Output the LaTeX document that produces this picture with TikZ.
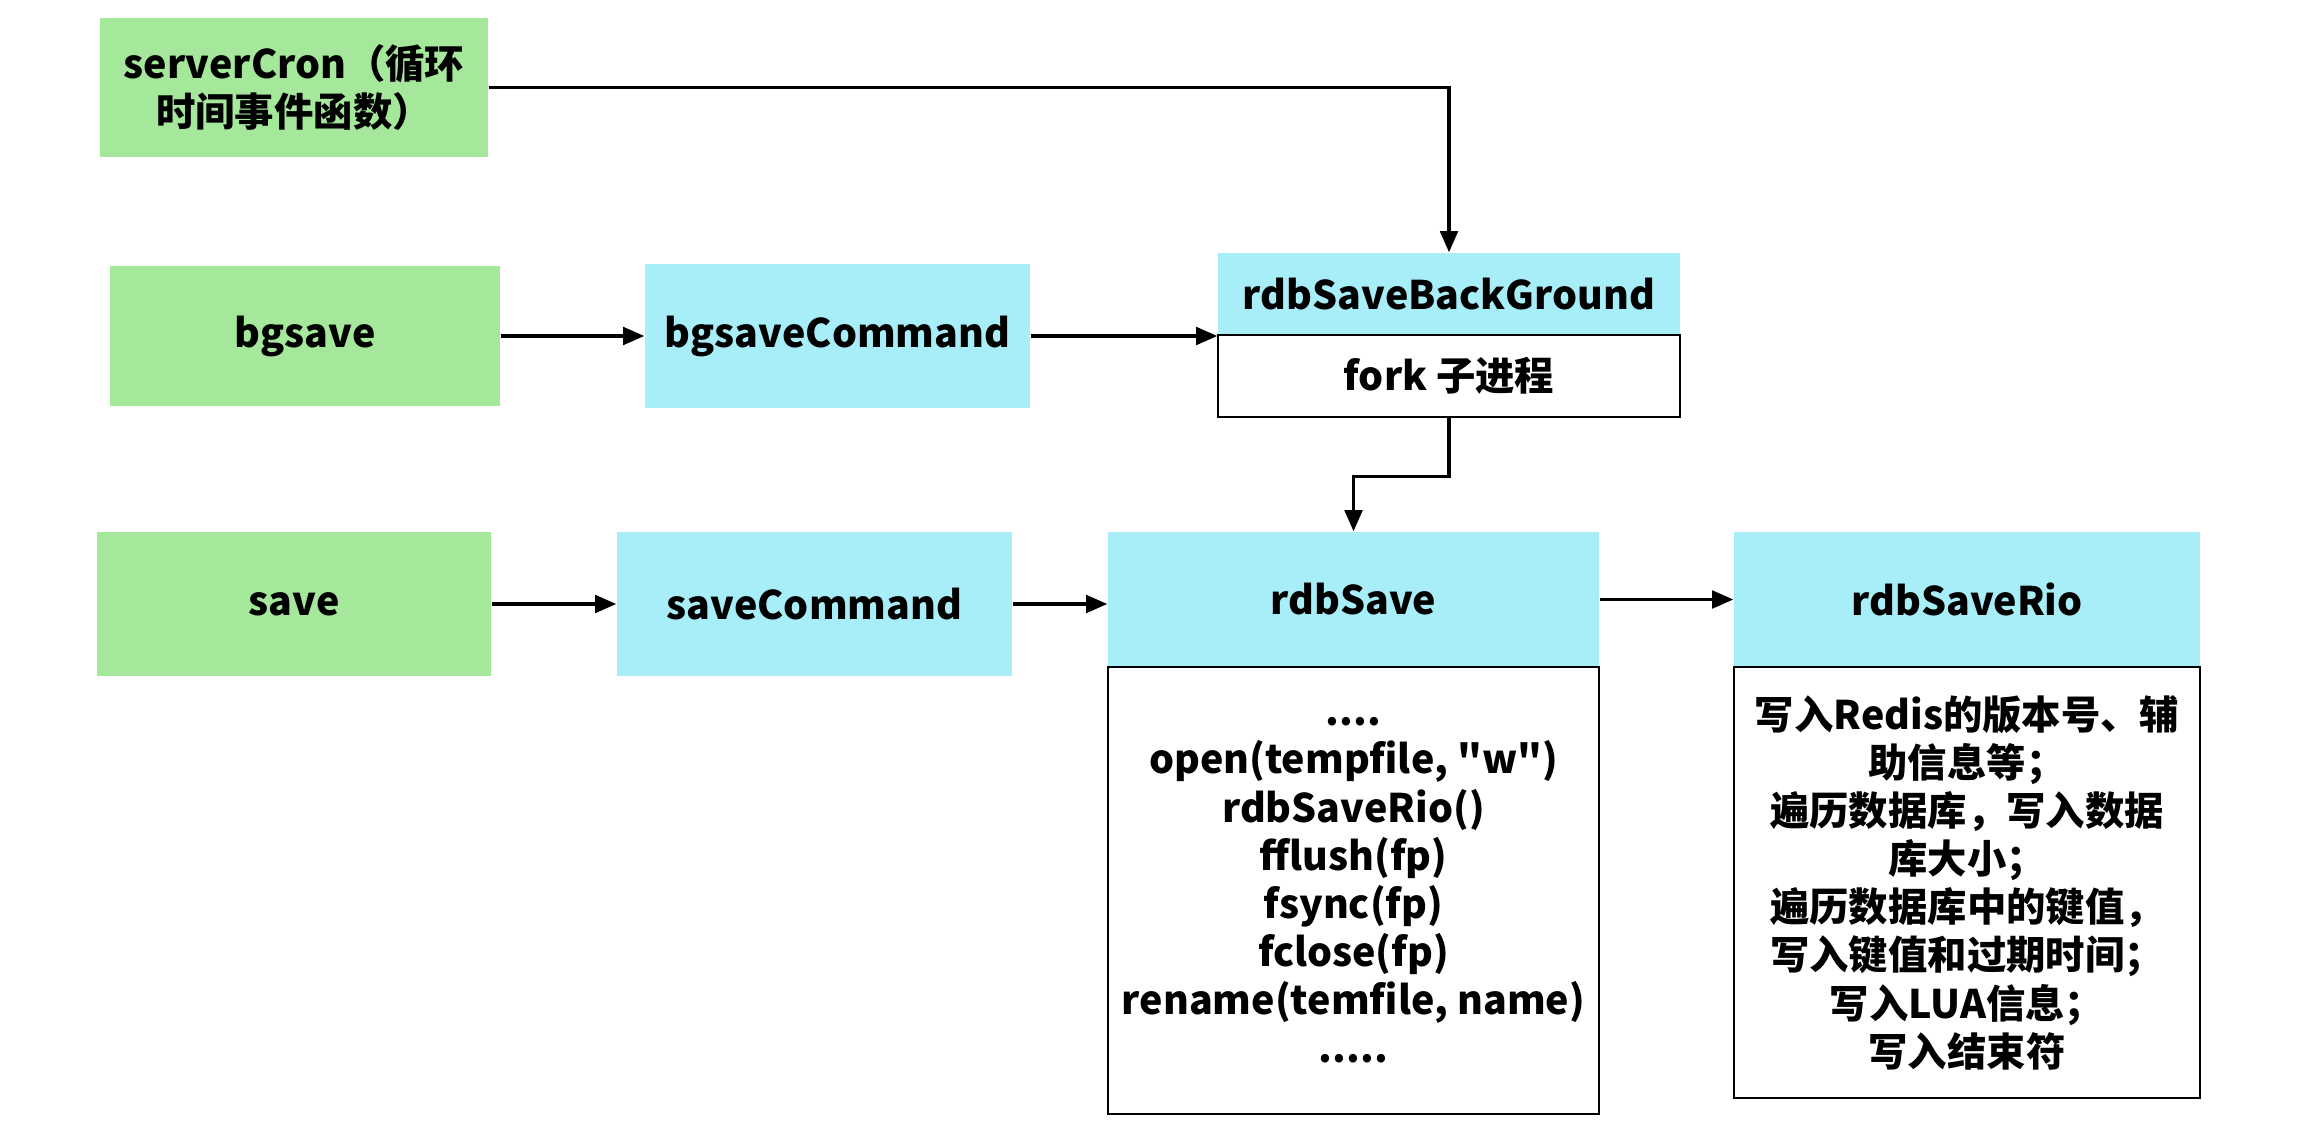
\documentclass[tikz,border=0pt]{standalone}
\usepackage{fontspec}
\setmainfont{Noto Sans CJK SC}[Ligatures=TeXOff]
\usepackage{tikz}
\usetikzlibrary{arrows.meta}
\definecolor{boxgreen}{HTML}{A5E89B}
\definecolor{boxcyan}{HTML}{A8EEF9}
\tikzset{
	gbox/.style 2 args={rectangle,fill=boxgreen,minimum width=#1cm,minimum height=#2cm,inner sep=0pt,align=center,font=\bfseries},
	cbox/.style 2 args={rectangle,fill=boxcyan,minimum width=#1cm,minimum height=#2cm,inner sep=0pt,align=center,font=\bfseries},
	wbox/.style 2 args={rectangle,draw,line width=0.8pt,fill=white,minimum width=#1cm,minimum height=#2cm,inner sep=0pt,align=center,font=\bfseries},
	arr/.style={-{Triangle[length=6pt,width=5pt]},line width=0.9pt}
}

\begin{document}
\begin{tikzpicture}[y=-1cm]
	\fontsize{11.2}{13.7}\selectfont
	\useasboundingbox (0,0) rectangle (23.04,11.26);

	% left column
	\node [gbox={3.88}{1.39}] (sc) at (2.94,0.875) {serverCron（循环\\时间事件函数）};
	\node [gbox={3.90}{1.40}] (bgsave) at (3.05,3.36) {bgsave};
	\node [gbox={3.94}{1.44}] (save) at (2.94,6.04) {save};

	% commands
	\node [cbox={3.85}{1.44}] (bgcmd) at (8.375,3.36) {bgsaveCommand};
	\node [cbox={3.95}{1.44}] (savecmd) at (8.145,6.04) {saveCommand};

	% rdbSaveBackGround
	\node [cbox={4.62}{0.82}] (rsbg) at (14.49,2.94) {rdbSaveBackGround};
	\node [wbox={4.62}{0.82}] (fork) at (14.49,3.76) {fork 子进程};

	% rdbSave
	\node [cbox={4.91}{1.35}] (rdbsave) at (13.535,5.995) {rdbSave};
	\node [wbox={4.91}{4.47}] (rdbbody) at (13.535,8.905) {....\\open(tempfile, "w")\\rdbSaveRio()\\fflush(fp)\\fsync(fp)\\fclose(fp)\\rename(temfile, name)\\.....};

	% rdbSaveRio
	\node [cbox={4.66}{1.35}] (rio) at (19.67,5.995) {rdbSaveRio};
	\node [wbox={4.66}{4.31}] (riobody) at (19.67,8.825) {写入Redis的版本号、辅\\助信息等；\\遍历数据库，写入数据\\库大小；\\遍历数据库中的键值，\\写入键值和过期时间；\\写入LUA信息；\\写入结束符};

	\draw [arr] (sc.east) -| (rsbg.north);
	\draw [arr] (bgsave.east) -- (bgcmd.west);
	\draw [arr] (bgcmd.east) -- (bgcmd.east -| rsbg.south west);
	\draw [arr] (fork.south) -- ++(0,0.58) -| (rdbsave.north);

	\draw [arr] (save.east) -- (savecmd.west);
	\draw [arr] (savecmd.east) -- (savecmd.east -| rdbsave.west);
	\draw [arr] (rdbsave.east) -- (rio.west);
\end{tikzpicture}
\end{document}
